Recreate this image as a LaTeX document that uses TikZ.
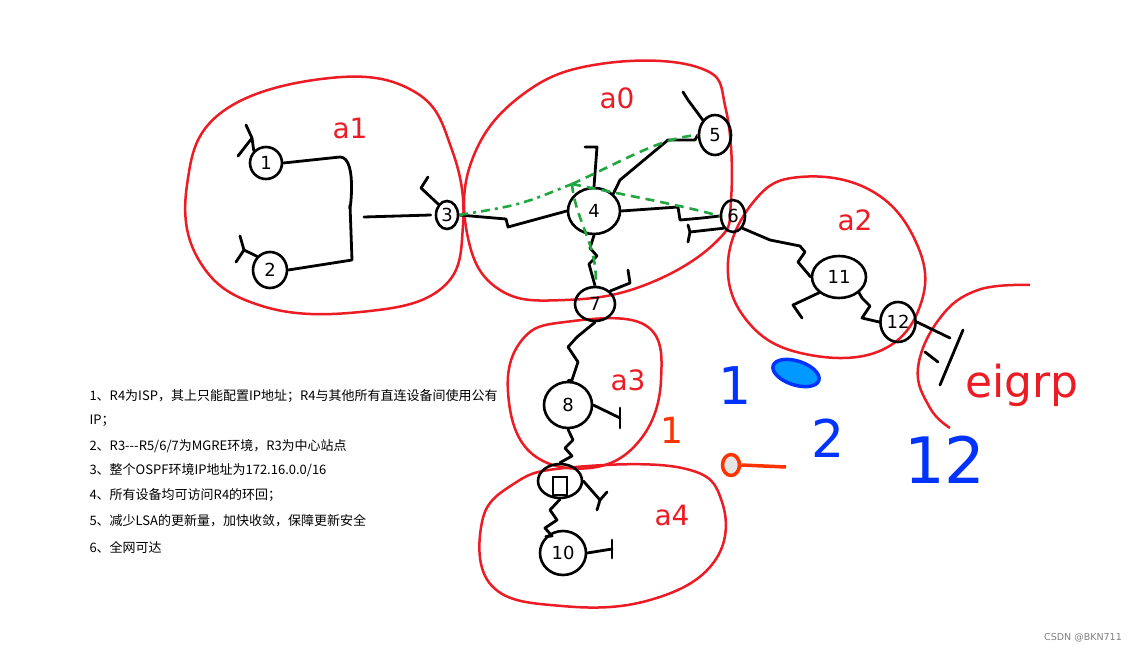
\documentclass[tikz,border=0pt]{standalone}
\usepackage{fontspec}
\usepackage{tikz}
\usetikzlibrary{
  calc,%
  shapes.geometric,%
  positioning
}
\newfontfamily\cjk{Noto Sans CJK SC}
\newfontfamily\hand{DejaVu Sans}
\definecolor{penred}{rgb}{0.93, 0.11, 0.14}
\definecolor{pengreen}{rgb}{0.13, 0.65, 0.25}
\definecolor{penblue}{rgb}{0.0, 0.2, 1}
\definecolor{skyfill}{rgb}{0, 0.6, 1}
\definecolor{penorange}{rgb}{1, 0.2, 0}
\tikzset{font=\hand}
\tikzset{router/.style={draw, line width=2.6pt, ellipse, inner sep=1pt,
  font=\hand\fontsize{18}{18}\selectfont}}
\tikzset{wire/.style={line width=2.8pt, line join=round, line cap=round}}
\tikzset{area/.style={penred, line width=2.5pt}}
\tikzset{arealbl/.style={penred, font=\hand\fontsize{28}{28}\selectfont}}
\tikzset{mgre/.style={pengreen, line width=2.6pt, dash pattern=on 9pt off 6pt}}
\tikzset{req/.style={anchor=west, font=\cjk\fontsize{13}{15}\selectfont}}
\tikzset{bluemark/.style={penblue, font=\hand\fontsize{52}{52}\selectfont}}

\begin{document}
\begin{tikzpicture}[x=1pt, y=-1pt]
  \useasboundingbox[fill=white] (0,0) rectangle (1143,653);

  % areas
  \draw[area] plot[smooth cycle, tension=0.7] coordinates {(330,78) (415,92) (452,150) (463,225)
    (442,288) (360,312) (262,306) (200,262) (187,185) (222,112)};
  \draw[area] plot[smooth cycle, tension=0.7] coordinates {(600,64) (700,68) (726,110) (731,200)
    (716,242) (645,285) (565,300) (500,290) (468,238) (472,160) (522,95)};
  \draw[area] plot[smooth cycle, tension=0.7] coordinates {(800,177) (870,190) (915,240) (922,300)
    (882,350) (805,354) (748,322) (728,262) (755,200)};
  \draw[area] plot[smooth cycle, tension=0.7] coordinates {(565,322) (645,325) (661,380) (640,440)
    (590,468) (530,452) (508,392) (522,340)};
  \draw[area] plot[smooth cycle, tension=0.7] coordinates {(565,468) (682,468) (722,502) (714,562)
    (650,600) (562,606) (492,586) (482,522) (512,485)};
  \draw[area] plot[smooth, tension=0.7] coordinates {(1030,285) (978,290) (940,318) (918,368)
    (930,408) (950,428)};

  \node[arealbl] (lbla1) at (350,128) {a1};
  \node[arealbl] (lbla0) at (617,98) {a0};
  \node[arealbl] (lbla2) at (855,220) {a2};
  \node[arealbl] (lbla3) at (628,380) {a3};
  \node[arealbl] (lbla4) at (672,515) {a4};
  \node[arealbl, font=\hand\fontsize{44}{44}\selectfont] (lbleigrp) at (1022,385) {eigrp};

  % routers
  \node[router, minimum width=32pt, minimum height=32pt] (r1) at (266,163) {1};
  \node[router, minimum width=34pt, minimum height=36pt] (r2) at (270,270) {2};
  \node[router, minimum width=22pt, minimum height=28pt] (r3) at (447,215) {3};
  \node[router, minimum width=52pt, minimum height=46pt] (r4) at (594,211) {4};
  \node[router, minimum width=32pt, minimum height=40pt] (r5) at (715,135) {5};
  \node[router, minimum width=24pt, minimum height=32pt] (r6) at (733,216) {6};
  \node[router, minimum width=40pt, minimum height=34pt] (r7) at (595,304) {7};
  \node[router, minimum width=48pt, minimum height=46pt] (r8) at (568,405) {8};
  \node[router, minimum width=44pt, minimum height=34pt] (r9) at (560,481) {};
  \draw[line width=2.4pt] ([xshift=-7pt, yshift=4pt]r9.center) rectangle ++(14pt,-18pt);
  \node[router, minimum width=46pt, minimum height=44pt] (r10) at (563,553) {10};
  \node[router, minimum width=54pt, minimum height=42pt] (r11) at (839,277) {11};
  \node[router, minimum width=34pt, minimum height=40pt] (r12) at (898,322) {12};

  % links
  \coordinate (sw) at (364,217);
  \draw[wire] (r1.east) -- (340,157) to[out=0, in=-95] (350,205) -- (352,260) -- (r2.east);
  \draw[wire] (sw) -- ([xshift=-4pt]r3.west);
  \draw[wire] (r3.east) -- (506,219) -- (508,227) -- (r4.west);
  \draw[wire] (r4.east) -- (678,207) -- (680,220) -- (702,218) -- (r6.west);
  \draw[wire] (r4.north east) -- (620,180) -- (668,140) -- (695,140) -- (r5.west);
  \draw[wire] (r4.south) -- (590,248) -- (597,256) -- (589,264) -- (r7.north);
  \draw[wire] (r7.south) -- (577,337) -- (568,347) -- (578,362) -- (572,380) -- (r8.north);
  \draw[wire] (r8.south) -- (573,440) -- (565,448) -- (572,456) -- (r9.north);
  \draw[wire] (r9.south) -- (550,510) -- (557,520) -- (545,528) -- (552,536) -- (r10.north west);
  \draw[wire] (r6.south east) -- (770,240) -- (800,246) -- (805,252) -- (798,262) -- (r11.west);
  \draw[wire] (r11.south east) -- (862,298) -- (870,306) -- (862,318) -- (r12.west);

  % stubs
  \draw[wire] (r1.north west) -- (252,138) -- (246,125);
  \draw[wire] (252,138) -- (238,156);
  \draw[wire] (r2.north west) -- (244,250) -- (240,236);
  \draw[wire] (244,250) -- (236,262);
  \draw[wire] (r3.north west) -- (421,188) -- (428,177);
  \draw[wire] (r5.north west) -- (688,100) -- (683,92);
  \draw[wire] (r4.north) -- (597,147) -- (585,147);
  \draw[wire] (r6.south west) -- (690,232) -- (688,225);
  \draw[wire] (690,232) -- (688,242);
  \draw[wire] (r7.north east) -- (630,283) -- (628,270);
  \draw[wire] (r8.east) -- (620,418);
  \draw[wire] (620,408) -- (620,428);
  \draw[wire] (r9.east) -- (600,500) -- (607,492);
  \draw[wire] (600,500) -- (597,510);
  \draw[wire] (r10.east) -- (612,549);
  \draw[wire] (612,540) -- (612,558);
  \draw[wire] (r11.south west) -- (793,305) -- (802,318);
  \draw[wire] (r12.east) -- (950,338);
  \draw[wire] (963,330) -- (940,385);
  \draw[wire] (925,352) -- (938,362);

  % mgre tunnels from r3
  \coordinate (hub) at (572,184);
  \draw[mgre, dash pattern=on 9pt off 5pt on 3pt off 5pt] (r3.east) .. controls (520,205) .. (hub);
  \draw[mgre] (hub) .. controls (625,160) and (660,138) .. (r5.west);
  \draw[mgre] (hub) .. controls (640,198) and (680,205) .. (r6.west);
  \draw[mgre] (hub) .. controls (575,220) and (600,250) .. (r7.north);

  % blue and orange marks
  \node[bluemark] (bone) at (735,386) {1};
  \fill[skyfill, draw=penblue, line width=3.5pt, rotate around={-18:(796,373)}] (796,373) ellipse (24 and 12);
  \node[bluemark] (btwo) at (828,438) {2};
  \node[bluemark, font=\hand\fontsize{64}{64}\selectfont] (btwelve) at (945,460) {12};
  \node[penorange, font=\hand\fontsize{36}{36}\selectfont] (oone) at (672,430) {1};
  \node[ellipse, draw=penorange, fill=gray!20, line width=3.5pt, minimum width=17pt, minimum height=21pt, inner sep=0pt] (lolly) at (731,465) {};
  \coordinate (lollyend) at (786,467);
  \draw[penorange, line width=3.5pt] (lolly.east) -- (lollyend);

  % requirements
  \node[req] (t1) at (86,396) {1、R4为ISP，其上只能配置IP地址；R4与其他所有直连设备间使用公有};
  \node[req] (t1b) at (86,421) {IP；};
  \node[req] (t2) at (86,446) {2、R3---R5/6/7为MGRE环境，R3为中心站点};
  \node[req] (t3) at (86,470) {3、整个OSPF环境IP地址为172.16.0.0/16};
  \node[req] (t4) at (86,495) {4、所有设备均可访问R4的环回；};
  \node[req] (t5) at (86,521) {5、减少LSA的更新量，加快收敛，保障更新安全};
  \node[req] (t6) at (86,547) {6、全网可达};

  \node[gray, font=\hand\fontsize{9.5}{10}\selectfont] (mark) at (1083,638) {CSDN @BKN711};
\end{tikzpicture}
\end{document}
